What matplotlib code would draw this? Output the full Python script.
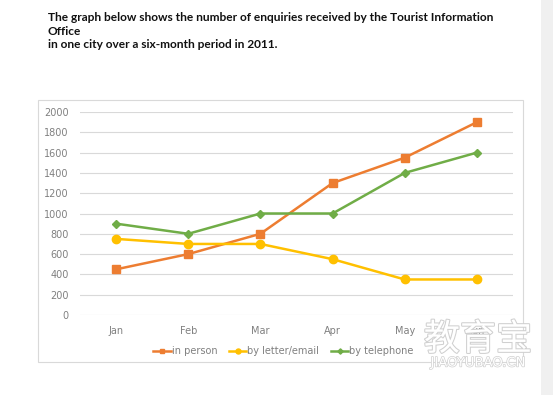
import matplotlib.pyplot as plt
import matplotlib.patheffects as pe
from matplotlib.patches import Rectangle

months = ["Jan", "Feb", "Mar", "Apr", "May", "Jun"]
in_person = [450, 600, 800, 1300, 1550, 1900]
by_letter = [750, 700, 700, 550, 350, 350]
by_phone = [900, 800, 1000, 1000, 1400, 1600]

fig = plt.figure(figsize=(5.53, 3.95), dpi=100)
W, H = 553, 395

# title
title = ("The graph below shows the number of enquiries received by the Tourist Information\n"
         "Office\n"
         "in one city over a six-month period in 2011.")
fig.text(48/W, 1 - 12/H, title, fontsize=8.6, fontweight="bold", family="Lato",
         va="top", ha="left", linespacing=1.3, color="#111111")

# chart frame
fig.patches.append(Rectangle((38/W, 1 - 362/H), (523-38)/W, (362-100)/H,
                             transform=fig.transFigure, fill=False,
                             edgecolor="#d9d9d9", lw=0.8))
# right-side grey strip
fig.patches.append(Rectangle((541/W, 0), 12/W, 1, transform=fig.transFigure,
                             color="#f0f0f0", lw=0))

ax = fig.add_axes([80/W, 1 - 315/H, (513-80)/W, (315-112)/H])
x = range(len(months))
ax.plot(x, in_person, color="#ed7d31", marker="s", ms=6, lw=1.8, label="in person")
ax.plot(x, by_letter, color="#ffc000", marker="o", ms=6, lw=1.8, label="by letter/email")
ax.plot(x, by_phone, color="#70ad47", marker="D", ms=4.5, lw=1.8, label="by telephone")

ax.set_xlim(-0.5, 5.5)
ax.set_ylim(0, 2000)
ax.set_yticks(range(0, 2001, 200))
ax.set_xticks(list(x))
ax.set_xticklabels(months)
ax.grid(axis="y", color="#d9d9d9", lw=0.8)
ax.set_axisbelow(True)
for s in ax.spines.values():
    s.set_visible(False)
ax.tick_params(length=0, labelsize=7, colors="#808080", pad=8)

ax.legend(loc="upper center", bbox_to_anchor=(0.47, -0.11), ncol=3, frameon=False,
          fontsize=7, labelcolor="#808080", handlelength=1.8, handletextpad=0.1,
          columnspacing=1.2, markerscale=0.6)

# watermark
outline = [pe.withStroke(linewidth=1.5, foreground="#d0d0d0")]
fig.text(478/W, 1 - 340/H, "教育宝", fontsize=26, family=["Noto Sans CJK SC"],
         color="white", ha="center", va="center", path_effects=outline)
fig.text(478/W, 1 - 363/H, "JIAOYUBAO.CN", fontsize=9.5, color="white",
         ha="center", va="center", path_effects=[pe.withStroke(linewidth=1, foreground="#d0d0d0")])

fig.savefig("out.png", dpi=100)
